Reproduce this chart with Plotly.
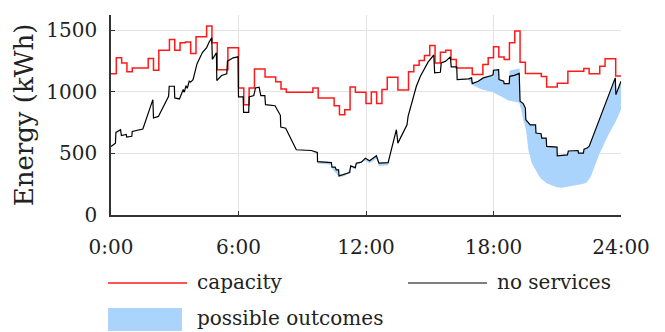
import plotly.graph_objects as go

# ---------------- data (hours, kWh) ----------------
tick_vals = [0, 6, 12, 18, 24]
tick_text = ["0:00", "6:00", "12:00", "18:00", "24:00"]

# capacity: step function (value holds from each start time)
cap_t = [0, 0.25, 0.5, 0.75, 1.0, 1.75, 2.0, 2.25, 2.75, 3.0, 3.25, 3.5, 3.75, 4.0, 4.5, 4.75,
         5.0, 5.5, 6.0, 6.25, 6.5, 6.75, 7.25, 7.75, 8.0, 8.25, 9.5, 9.75, 10.5, 10.75, 11.0,
         11.25, 11.5, 12.0, 12.25, 12.5, 12.75, 13.0, 13.5, 14.0, 14.25, 14.5, 14.75, 15.0,
         15.25, 15.5, 15.75, 16.0, 16.25, 17.0, 17.5, 17.75, 18.0, 18.25, 18.5, 18.75, 19.0,
         19.25, 19.5, 20.25, 20.5, 21.0, 21.5, 22.25, 22.5, 23.0, 23.25, 23.75, 24.0]
cap_v = [1147, 1277, 1236, 1163, 1195, 1271, 1176, 1339, 1426, 1339, 1399, 1405, 1312, 1448, 1535, 1399,
         1180, 1358, 1032, 896, 1032, 1187, 1122, 1082, 1024, 997, 1032, 951, 888, 815, 856,
         1040, 997, 905, 1000, 905, 1019, 1119, 1015, 1163, 1217, 1255, 1296, 1377,
         1236, 1323, 1339, 1263, 1195, 1141, 1222, 1277, 1367, 1283, 1263, 1399, 1494,
         1242, 1150, 1125, 1040, 1070, 1168, 1190, 1147, 1209, 1269, 1130, 1130]

# no services
ns_t = [0.00, 0.21, 0.23, 0.45, 0.49, 0.72, 0.74, 0.98, 1.0, 1.5, 1.97, 2.0, 2.23, 2.45, 2.71, 2.74,
        2.98, 3.0, 3.22, 3.4, 3.45, 3.53, 3.59, 3.68, 3.75, 3.86, 4.05, 4.3, 4.5, 4.62, 4.74, 4.77,
        4.96, 4.98, 5.2, 5.45, 5.48, 5.75, 5.98, 6.0, 6.22, 6.24, 6.48, 6.5, 6.72, 6.8, 6.97, 7.05,
        7.24, 7.27, 7.72, 7.97, 7.99, 8.22, 8.72, 9.43, 9.71, 9.72, 10.37, 10.4, 10.55, 10.6, 10.71,
        10.73, 11.0, 11.23, 11.28, 11.5, 11.54, 11.78, 11.97, 12.17, 12.49, 12.61, 13.04, 13.19,
        13.43, 13.5, 13.93, 13.98, 14.21, 14.37, 14.56, 14.73, 14.92, 15.19, 15.23, 15.5, 15.54,
        15.75, 15.97, 16.01, 16.27, 16.29, 16.82, 16.97, 17.0, 17.28, 17.52, 17.92, 17.98, 18.0,
        18.24, 18.26, 18.48, 18.5, 18.74, 18.76, 18.98, 19.21, 19.25, 19.4, 19.5, 19.52, 19.73,
        19.98, 20.0, 20.24, 20.27, 20.48, 20.5, 20.99, 21.0, 21.48, 21.52, 21.98, 22.0, 22.23,
        22.26, 22.4, 22.5, 23.73, 23.76, 24.0]
ns_v = [557, 584, 671, 693, 645, 655, 633, 640, 679, 699, 937, 788, 801, 870, 964, 1046,
        1046, 951, 943, 1019, 998, 1051, 1030, 1087, 1080, 1100, 1230, 1320, 1360, 1405, 1440, 1265,
        1318, 1092, 1133, 1147, 1250, 1277, 1285, 959, 959, 834, 834, 959, 970, 1032, 1038, 970,
        970, 896, 888, 810, 715, 705, 530, 524, 508, 434, 426, 389, 389, 367, 367,
        318, 330, 345, 399, 385, 421, 430, 462, 440, 481, 421, 426, 530,
        693, 584, 733, 801, 937, 1046, 1127, 1182, 1242, 1300, 1155, 1160, 1236,
        1250, 1285, 1204, 1204, 1100, 1106, 1114, 1068, 1087, 1114, 1133, 1140, 1176,
        1180, 1100, 1087, 1068, 1068, 1127, 1135, 1150, 924, 905, 869, 774, 733,
        733, 666, 660, 625, 625, 557, 552, 481, 489, 520, 524, 503, 503,
        535, 544, 557, 1114, 978, 1087]

# possible outcomes: two bands (upper and lower edges)
bandA_hi_t = [9.43, 9.71, 9.72, 10.37, 10.4, 10.55, 10.6, 10.71, 10.73, 11.0, 11.23, 11.28, 11.5,
              11.54, 11.78, 11.97, 12.17, 12.49, 12.61, 13.04, 13.1]
bandA_hi_v = [524, 508, 434, 426, 389, 389, 367, 367, 318, 330, 345, 399, 385,
              421, 430, 462, 440, 481, 421, 426, 450]
bandA_lo_t = [9.43, 9.71, 9.72, 10.37, 10.4, 10.73, 11.0, 11.28, 11.5, 11.54, 11.97, 12.17,
              12.49, 12.61, 13.04, 13.1]
bandA_lo_v = [520, 492, 418, 408, 378, 308, 315, 385, 372, 405, 440, 420,
              458, 398, 405, 450]

bandB_hi_t = [16.8, 16.97, 17.0, 17.28, 17.52, 17.92, 17.98, 18.0, 18.24, 18.26, 18.48, 18.5,
              18.74, 18.76, 19.0, 19.23, 19.25, 19.4, 19.5, 19.52, 19.73, 19.98, 20.0, 20.24,
              20.27, 20.48, 20.5, 20.99, 21.0, 21.48, 21.52, 21.98, 22.0, 22.23, 22.26, 22.4,
              22.5, 23.73, 23.76, 24.0]
bandB_hi_v = [1106, 1114, 1068, 1087, 1114, 1133, 1140, 1176, 1180, 1100, 1087, 1068,
              1068, 1175, 1185, 1190, 924, 905, 869, 774, 733, 733, 666, 660,
              625, 625, 557, 552, 481, 489, 520, 524, 503, 503, 535, 544,
              557, 1114, 978, 1087]
bandB_lo_t = [16.8, 17.0, 17.2, 17.45, 17.7, 17.95, 18.2, 18.45, 18.7, 18.95, 19.2, 19.3, 19.4,
              19.53, 19.64, 19.8, 20.03, 20.2, 20.5, 20.75, 20.97, 21.2, 21.45, 21.7, 21.98,
              22.2, 22.38, 22.58, 23.0, 23.45, 23.75, 24.0]
bandB_lo_v = [1106, 1060, 1040, 1019, 1010, 1000, 978, 955, 930, 925, 915, 860, 774,
              693, 530, 421, 353, 300, 258, 240, 225, 222, 228, 235, 245,
              252, 265, 312, 503, 666, 760, 856]

# ---------------- figure ----------------
FONT = "DejaVu Serif"
RED = "#ff1a1a"
BLUE = "#aad4fc"

band_x = (bandA_hi_t + bandA_lo_t[::-1] + [None] + bandB_hi_t + bandB_lo_t[::-1])
band_y = (bandA_hi_v + bandA_lo_v[::-1] + [None] + bandB_hi_v + bandB_lo_v[::-1])

fig = go.Figure()
fig.add_trace(go.Scatter(x=band_x, y=band_y, fill="toself", fillcolor=BLUE, mode="lines",
                         line=dict(width=0, color=BLUE), name="possible outcomes",
                         showlegend=False, hoverinfo="skip"))
fig.add_trace(go.Scatter(x=cap_t, y=cap_v, mode="lines", line=dict(color=RED, width=1.5, shape="hv"),
                         name="capacity", showlegend=False))
fig.add_trace(go.Scatter(x=ns_t, y=ns_v, mode="lines", line=dict(color="black", width=1.2),
                         name="no services", showlegend=False))

# manual legend below the plot (paper coordinates)
L, R_, T, B = 111, 621, 15, 215
W, H = R_ - L, B - T
def px(x): return (x - L) / W
def py(y): return (B - y) / H

shapes = [
    dict(type="line", xref="paper", yref="paper", x0=px(108), x1=px(187), y0=py(283), y1=py(283),
         line=dict(color=RED, width=1.5)),
    dict(type="line", xref="paper", yref="paper", x0=px(408), x1=px(487), y0=py(283), y1=py(283),
         line=dict(color="black", width=1.2)),
    dict(type="rect", xref="paper", yref="paper", x0=px(108), x1=px(182), y0=py(331), y1=py(308),
         fillcolor=BLUE, line=dict(width=0)),
]
annotations = [
    dict(text="capacity", x=px(195), y=py(282), xref="paper", yref="paper", xanchor="left",
         yanchor="middle", showarrow=False, font=dict(family=FONT, size=20, color="#222")),
    dict(text="no services", x=px(495), y=py(282), xref="paper", yref="paper", xanchor="left",
         yanchor="middle", showarrow=False, font=dict(family=FONT, size=20, color="#222")),
    dict(text="possible outcomes", x=px(195), y=py(318), xref="paper", yref="paper", xanchor="left",
         yanchor="middle", showarrow=False, font=dict(family=FONT, size=20, color="#222")),
]

fig.update_layout(
    width=665, height=332,
    margin=dict(l=L, r=665 - R_, t=T, b=332 - B),
    paper_bgcolor="white", plot_bgcolor="white",
    font=dict(family=FONT, size=20, color="#222"),
    shapes=shapes, annotations=annotations,
    showlegend=False,
)
fig.update_xaxes(range=[0, 24], tickvals=tick_vals, ticktext=tick_text,
                 showgrid=True, gridcolor="#e3e3e3", gridwidth=1,
                 showline=True, linecolor="#333", linewidth=1.5,
                 ticks="inside", ticklen=4, tickcolor="#333", tickwidth=1.2,
                 ticklabelstandoff=13, zeroline=False,
                 tickfont=dict(family=FONT, size=20, color="#222"))
fig.update_yaxes(range=[0, 1625], tickvals=[0, 500, 1000, 1500],
                 showgrid=True, gridcolor="#e3e3e3", gridwidth=1,
                 showline=True, linecolor="#333", linewidth=1.5,
                 ticks="inside", ticklen=4, tickcolor="#333", tickwidth=1.2,
                 ticklabelstandoff=8, zeroline=False,
                 tickfont=dict(family=FONT, size=20, color="#222"),
                 title=dict(text="Energy (kWh)", standoff=5,
                            font=dict(family=FONT, size=26, color="#222")))

fig.write_html("out.html", config={"displayModeBar": False},
               post_script="document.body.style.margin='0';document.body.style.padding='0';"
                           "document.documentElement.style.overflow='hidden';")
